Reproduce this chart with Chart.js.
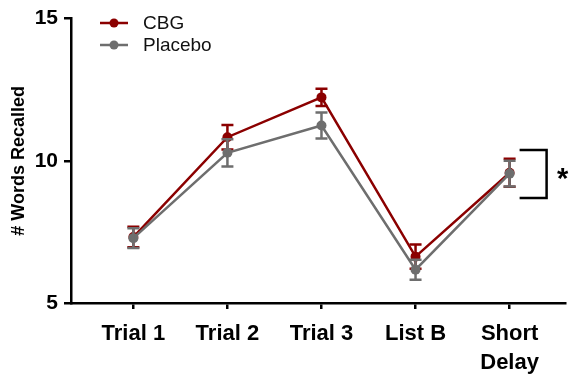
<!DOCTYPE html>
<html>
<head>
<meta charset="utf-8">
<script src="https://cdn.jsdelivr.net/npm/chart.js@4/dist/chart.umd.min.js"></script>
<style>
  html, body { margin: 0; padding: 0; background: #fff; }
  #wrap { width: 570px; height: 375px; position: relative; }
</style>
</head>
<body>
<div id="wrap"><canvas id="c" width="570" height="375"></canvas></div>
<script>
// Recall phases
const categories = ['Trial 1', 'Trial 2', 'Trial 3', 'List B', ['Short', 'Delay']];

// Mean words recalled and SEM per phase
const cbgMeans    = [7.32, 10.83, 12.23, 6.63, 9.58];
const cbgErrors   = [0.36, 0.43, 0.30, 0.43, 0.49];
const placeboMeans  = [7.28, 10.28, 11.24, 6.17, 9.55];
const placeboErrors = [0.35, 0.48, 0.46, 0.35, 0.45];

// Y tick values
const yTicks = [5, 10, 15];

// Significance bracket next to the last phase (value range)
const bracketTop = 10.38;
const bracketBottom = 8.69;

const FONT = "'Liberation Sans', Arial, Helvetica, sans-serif";
const RED = '#8b0000';
const GRAY = '#6e6e6e';

const toPoints = arr => arr.map((v, i) => ({ x: i, y: v }));

const errorBars = {
  id: 'errorBars',
  afterDatasetDraw(chart, args) {
    const ds = chart.data.datasets[args.index];
    if (!ds.errors) return;
    const { ctx, scales: { x, y } } = chart;
    ctx.save();
    ctx.strokeStyle = ds.borderColor;
    ctx.lineWidth = 2.5;
    ds.data.forEach((p, i) => {
      const px = x.getPixelForValue(p.x);
      const top = y.getPixelForValue(p.y + ds.errors[i]);
      const bot = y.getPixelForValue(p.y - ds.errors[i]);
      ctx.beginPath();
      ctx.moveTo(px, top); ctx.lineTo(px, bot);
      ctx.moveTo(px - 6, top); ctx.lineTo(px + 6, top);
      ctx.moveTo(px - 6, bot); ctx.lineTo(px + 6, bot);
      ctx.stroke();
    });
    ctx.restore();
  }
};

const extras = {
  id: 'extras',
  afterDraw(chart) {
    const { ctx, scales: { x, y } } = chart;
    ctx.save();
    // significance bracket
    const xs = x.getPixelForValue(categories.length - 1);
    const yt = y.getPixelForValue(bracketTop);
    const yb = y.getPixelForValue(bracketBottom);
    ctx.strokeStyle = '#000';
    ctx.lineWidth = 2.5;
    ctx.beginPath();
    ctx.moveTo(xs + 10, yt);
    ctx.lineTo(xs + 37, yt);
    ctx.lineTo(xs + 37, yb);
    ctx.lineTo(xs + 10, yb);
    ctx.stroke();
    ctx.fillStyle = '#000';
    ctx.font = 'bold 29px ' + FONT;
    ctx.textAlign = 'center';
    ctx.textBaseline = 'middle';
    ctx.fillText('*', xs + 53, (yt + yb) / 2 + 6);

    // legend
    ctx.font = '19px ' + FONT;
    ctx.textAlign = 'left';
    const rows = [chart.data.datasets[1], chart.data.datasets[0]];
    rows.forEach((ds, i) => {
      const ly = 23 + i * 22;
      ctx.strokeStyle = ds.borderColor;
      ctx.lineWidth = 2.5;
      ctx.beginPath();
      ctx.moveTo(100, ly); ctx.lineTo(128, ly);
      ctx.stroke();
      ctx.fillStyle = ds.borderColor;
      ctx.beginPath();
      ctx.arc(114, ly, 4.5, 0, Math.PI * 2);
      ctx.fill();
      ctx.fillStyle = '#111';
      ctx.fillText(ds.label, 143, ly + 1);
    });
    ctx.restore();
  }
};

new Chart(document.getElementById('c'), {
  type: 'line',
  data: {
    datasets: [
      {
        label: 'Placebo',
        data: toPoints(placeboMeans),
        errors: placeboErrors,
        borderColor: GRAY,
        backgroundColor: GRAY,
        borderWidth: 2.5,
        pointRadius: 5,
        pointBorderWidth: 0,
        pointBackgroundColor: GRAY,
        order: 0
      },
      {
        label: 'CBG',
        data: toPoints(cbgMeans),
        errors: cbgErrors,
        borderColor: RED,
        backgroundColor: RED,
        borderWidth: 2.5,
        pointRadius: 5,
        pointBorderWidth: 0,
        pointBackgroundColor: RED,
        order: 1
      }
    ]
  },
  options: {
    responsive: false,
    animation: false,
    layout: { padding: { top: 15, right: 0, left: 0, bottom: 0 } },
    plugins: { legend: { display: false }, tooltip: { enabled: false } },
    scales: {
      x: {
        type: 'linear',
        min: -0.663,
        max: 4.589,
        afterBuildTicks: s => { s.ticks = categories.map((_, i) => ({ value: i })); },
        afterFit: s => { s.height = 72; },
        ticks: {
          autoSkip: false,
          maxRotation: 0,
          padding: 11,
          color: '#000',
          font: { family: FONT, size: 22, weight: 'bold', lineHeight: 1.3 },
          callback: v => categories[v]
        },
        grid: { drawOnChartArea: false, tickLength: 6, color: '#000', lineWidth: 2.5 },
        border: { color: '#000', width: 2.5 }
      },
      y: {
        min: 5,
        max: 15,
        afterBuildTicks: s => { s.ticks = yTicks.map(v => ({ value: v })); },
        afterFit: s => { s.width = 71; },
        ticks: {
          padding: 6,
          color: '#000',
          font: { family: FONT, size: 21, weight: 'bold' }
        },
        grid: { drawOnChartArea: false, tickLength: 7, color: '#000', lineWidth: 2.5 },
        border: { color: '#000', width: 2.5 },
        title: {
          display: true,
          text: '# Words Recalled',
          color: '#000',
          font: { family: FONT, size: 18, weight: 'bold' },
          padding: { top: 8, bottom: 0 }
        }
      }
    }
  },
  plugins: [errorBars, extras]
});
</script>
</body>
</html>
